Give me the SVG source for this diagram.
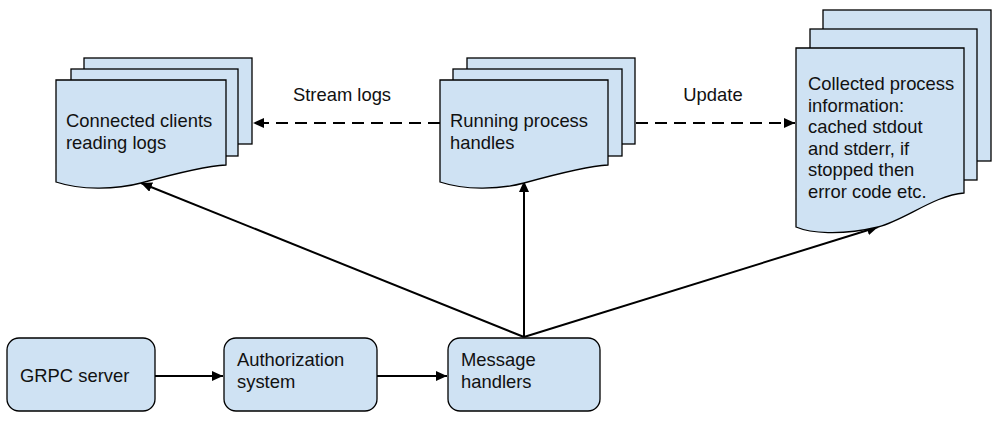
<svg xmlns="http://www.w3.org/2000/svg" width="1004" height="424" viewBox="0 0 1004 424">
<style>
.shape{fill:#cfe2f3;stroke:#000;stroke-width:1.3}
.t{font-family:"Liberation Sans",Arial,sans-serif;font-size:18.4px;fill:#111}
.conn{stroke:#000;stroke-width:2;fill:none}
.dash{stroke-dasharray:12 7}
</style>
<defs>
<marker id="arr" markerUnits="userSpaceOnUse" markerWidth="12" markerHeight="10" refX="11" refY="5" orient="auto">
<path d="M0,0 L11,5 L0,10 z" fill="#000"/>
</marker>
</defs>
<rect width="1004" height="424" fill="#fff"/>

<g id="connectors">
<line class="conn" x1="155" y1="376" x2="223" y2="376" marker-end="url(#arr)"/>
<line class="conn" x1="377" y1="376" x2="447" y2="376" marker-end="url(#arr)"/>
<line class="conn" x1="524" y1="337" x2="141" y2="183" marker-end="url(#arr)"/>
<line class="conn" x1="524" y1="337" x2="524" y2="181" marker-end="url(#arr)"/>
<line class="conn" x1="524" y1="337" x2="878" y2="227" marker-end="url(#arr)"/>
<line class="conn dash" x1="440" y1="123" x2="253" y2="123" marker-end="url(#arr)"/>
<line class="conn dash" x1="636" y1="123" x2="795" y2="123" marker-end="url(#arr)"/>
<text class="t" x="342" y="101" text-anchor="middle">Stream logs</text>
<text class="t" x="713" y="101" text-anchor="middle">Update</text>
</g>

<g id="clients">
<rect class="shape" x="84" y="58" width="168" height="86"/>
<rect class="shape" x="71" y="69" width="167" height="87"/>
<path class="shape" d="M56,80 H226 V165 C205,166 170,175 141,183 C115,190 80,190 56,182 Z"/>
<text class="t" x="66" y="127">Connected clients</text>
<text class="t" x="66" y="149">reading logs</text>
</g>

<g id="running">
<rect class="shape" x="467" y="58" width="168" height="86"/>
<rect class="shape" x="453" y="69" width="169" height="87"/>
<path class="shape" d="M440,80 H608 V165 C587,166 553,175 524,183 C498,190 464,190 440,182 Z"/>
<text class="t" x="450" y="127">Running process</text>
<text class="t" x="450" y="149">handles</text>
</g>

<g id="collected">
<rect class="shape" x="823" y="10" width="168" height="151"/>
<rect class="shape" x="810" y="29" width="167" height="151"/>
<path class="shape" d="M796,48 H964 V193 C935,195 905,220 878,227 C840,236 810,233 796,227 Z"/>
<text class="t" x="808" y="90">Collected process</text>
<text class="t" x="808" y="111.6">information:</text>
<text class="t" x="808" y="133.2">cached stdout</text>
<text class="t" x="808" y="154.8">and stderr, if</text>
<text class="t" x="808" y="176.4">stopped then</text>
<text class="t" x="808" y="198">error code etc.</text>
</g>

<g id="grpc">
<rect class="shape" x="7" y="338" width="148" height="73" rx="12"/>
<text class="t" x="20" y="382">GRPC server</text>
</g>

<g id="auth">
<rect class="shape" x="224" y="338" width="153" height="73" rx="12"/>
<text class="t" x="237" y="366">Authorization</text>
<text class="t" x="237" y="388">system</text>
</g>

<g id="message">
<rect class="shape" x="448" y="338" width="152" height="73" rx="12"/>
<text class="t" x="461" y="366">Message</text>
<text class="t" x="461" y="388">handlers</text>
</g>
</svg>
